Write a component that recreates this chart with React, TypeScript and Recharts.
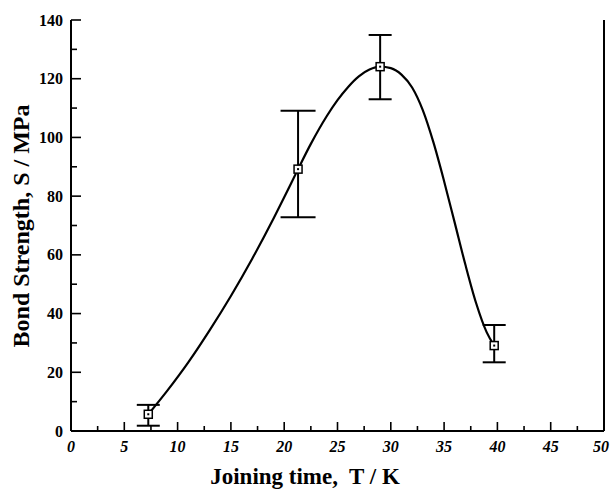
import {
  ComposedChart,
  Line,
  Scatter,
  ErrorBar,
  XAxis,
  YAxis,
  ReferenceLine,
} from 'recharts';

const joiningTime = [7.25, 21.3, 29.0, 39.7];
const bondStrength = [5.7, 89.2, 124.1, 29.1];
const errLow = [3.9, 16.4, 11.1, 5.7];
const errHigh = [3.2, 19.9, 10.8, 7.0];
const wideCap = [false, true, false, false];

// the smooth fitted curve
const fitTime = [7.25, 9, 11, 13, 15, 17, 19, 20, 21.3, 22.5, 24, 25, 26, 27, 28, 29, 30, 31, 32, 33, 34, 35, 36, 37, 38, 39, 39.7];
const fitStrength = [5.7, 13.6, 23.4, 34.3, 46.0, 58.7, 72.4, 79.6, 89.2, 97.8, 107.3, 112.7, 117.2, 120.8, 123.1, 124.1, 123.6, 121.4, 117.0, 109.3, 98.3, 85.1, 70.9, 56.6, 43.6, 33.6, 29.1];

const xTicks = [0, 2.5, 5, 7.5, 10, 12.5, 15, 17.5, 20, 22.5, 25, 27.5, 30, 32.5, 35, 37.5, 40, 42.5, 45, 47.5, 50];
const yTicks = [0, 10, 20, 30, 40, 50, 60, 70, 80, 90, 100, 110, 120, 130, 140];

const points = joiningTime.map((x, i) => ({
  x,
  y: bondStrength[i],
  err: [errLow[i], errHigh[i]],
  wide: wideCap[i],
}));
const fit = fitTime.map((x, i) => ({ x, y: fitStrength[i] }));

const FONT = '"Liberation Serif", "Times New Roman", serif';

function BottomTick(props: any) {
  const { x, y, payload } = props;
  const major = payload.value % 5 === 0;
  const tx = payload.value === 50 ? x - 3 : x;
  return (
    <g>
      <line x1={x} y1={y} x2={x} y2={y - (major ? 9 : 5)} stroke="#000" strokeWidth={1.6} />
      {major && (
        <text
          x={tx}
          y={y + 21}
          textAnchor="middle"
          fontFamily={FONT}
          fontWeight="bold"
          fontStyle="italic"
          fontSize={16}
          fill="#000"
        >
          {payload.value}
        </text>
      )}
    </g>
  );
}

function TopTick(props: any) {
  const { x, y, payload } = props;
  const major = payload.value % 5 === 0;
  return <line x1={x} y1={y} x2={x} y2={y + (major ? 8 : 5)} stroke="#000" strokeWidth={1.6} />;
}

function LeftTick(props: any) {
  const { x, y, payload } = props;
  const major = payload.value % 20 === 0;
  return (
    <g>
      <line x1={x} y1={y} x2={x + (major ? 10 : 6)} y2={y} stroke="#000" strokeWidth={1.6} />
      {major && (
        <text
          x={x - 8}
          y={y + 5.5}
          textAnchor="end"
          fontFamily={FONT}
          fontWeight="bold"
          fontSize={16}
          fill="#000"
        >
          {payload.value}
        </text>
      )}
    </g>
  );
}

function SquareMark(props: any) {
  const { cx, cy } = props;
  return (
    <g>
      <rect x={cx - 4} y={cy - 4} width={8} height={8} fill="#fff" stroke="#000" strokeWidth={1.5} />
      <rect x={cx - 1} y={cy - 1} width={2} height={2} fill="#000" />
    </g>
  );
}

const NoMark = () => <g />;

export default function App() {
  return (
    <div style={{ position: 'absolute', left: 0, top: 0 }}>
      <ComposedChart
        width={610}
        height={491}
        margin={{ top: 20, right: 6, bottom: 0, left: 0 }}
      >
        <XAxis
          dataKey="x"
          type="number"
          domain={[0, 50]}
          ticks={xTicks}
          interval={0}
          height={60}
          tickSize={0}
          tickMargin={0}
          tickLine={false}
          axisLine={{ stroke: '#000', strokeWidth: 2 }}
          tick={<BottomTick />}
          label={{
            value: 'Joining time,  T / K',
            content: () => (
              <text
                x={305}
                y={484}
                textAnchor="middle"
                fontFamily={FONT}
                fontWeight="bold"
                fontSize={23}
                fill="#000"
                style={{ whiteSpace: 'pre' }}
              >
                Joining time,  T / K
              </text>
            ),
          }}
        />
        <XAxis
          xAxisId="top"
          orientation="top"
          dataKey="x"
          type="number"
          domain={[0, 50]}
          ticks={xTicks}
          interval={0}
          height={0}
          tickSize={0}
          tickMargin={0}
          tickLine={false}
          axisLine={{ stroke: '#000', strokeWidth: 2 }}
          tick={<TopTick />}
        />
        <YAxis
          type="number"
          domain={[0, 140]}
          ticks={yTicks}
          interval={0}
          width={71}
          tickSize={0}
          tickMargin={0}
          tickLine={false}
          axisLine={{ stroke: '#000', strokeWidth: 2 }}
          tick={<LeftTick />}
          label={{
            value: 'Bond Strength, S / MPa',
            content: () => (
              <text
                x={29}
                y={226}
                transform="rotate(-90 29 226)"
                textAnchor="middle"
                fontFamily={FONT}
                fontWeight="bold"
                fontSize={24}
                fill="#000"
              >
                Bond Strength, S / MPa
              </text>
            ),
          }}
        />
        <ReferenceLine x={50} stroke="#000" strokeWidth={2} />
        <Line
          data={fit}
          dataKey="y"
          type="monotone"
          stroke="#000"
          strokeWidth={2.2}
          dot={false}
          isAnimationActive={false}
        />
        <Scatter
          data={points.filter((p) => !p.wide)}
          dataKey="y"
          shape={<NoMark />}
          isAnimationActive={false}
        >
          <ErrorBar dataKey="err" direction="y" width={11.5} stroke="#000" strokeWidth={2} />
        </Scatter>
        <Scatter
          data={points.filter((p) => p.wide)}
          dataKey="y"
          shape={<NoMark />}
          isAnimationActive={false}
        >
          <ErrorBar dataKey="err" direction="y" width={17.5} stroke="#000" strokeWidth={2} />
        </Scatter>
        <Scatter data={points} dataKey="y" shape={<SquareMark />} isAnimationActive={false} />
      </ComposedChart>
    </div>
  );
}
